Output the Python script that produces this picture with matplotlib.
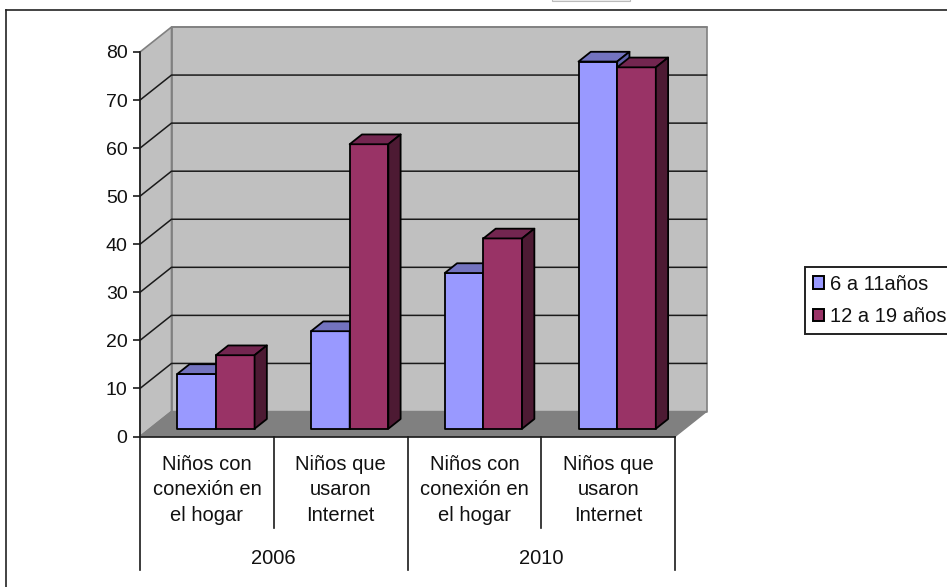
import matplotlib
matplotlib.use("Agg")
import matplotlib.pyplot as plt
from matplotlib.patches import Polygon, Patch, Rectangle
from matplotlib.lines import Line2D

plt.rcParams['font.family'] = ['Liberation Sans', 'DejaVu Sans']

categories = ["Niños con\nconexión en\nel hogar", "Niños que\nusaron\nInternet",
              "Niños con\nconexión en\nel hogar", "Niños que\nusaron\nInternet"]
years = ["2006", "2010"]
series_names = ["6 a 11años", "12 a 19 años"]
values_young = [11.4, 20.3, 32.4, 76.4]
values_teen = [15.3, 59.2, 39.6, 75.2]
y_ticks = [0, 10, 20, 30, 40, 50, 60, 70, 80]

W, H = 947, 587
BLUE = ("#9999FF", "#7373BF", "#5F62AA")
MAROON = ("#993366", "#732650", "#4D1A33")
WALL, FLOOR, EDGE = "#C0C0C0", "#808080", "#808080"
DARK = "#1a1a1a"
TXT = "#111111"
FS = 14.5

fig = plt.figure(figsize=(W / 100, H / 100), dpi=100, facecolor="white")
L, R, T, B = 140, 675, 52, 436.5
ax = fig.add_axes([L / W, 1 - B / H, (R - L) / W, (B - T) / H])
ax.set_xlim(0, 4)
ax.set_ylim(0, 80)
ax.patch.set_visible(False)
for s in ("top", "right"):
    ax.spines[s].set_visible(False)
for s in ("left", "bottom"):
    ax.spines[s].set_color(DARK)
    ax.spines[s].set_linewidth(1.2)
    ax.spines[s].set_zorder(20)

# oblique depth projection, in data units per unit of depth
DX = 31.5 / ((R - L) / 4)
DY = 25 / ((B - T) / 80)


def P(x, y, z):
    return (x + z * DX, y + z * DY)


def poly(pts, fc, ec="none", lw=0.0, z=1):
    ax.add_patch(Polygon(pts, closed=True, facecolor=fc, edgecolor=ec, linewidth=lw,
                         zorder=z, clip_on=False, joinstyle="round"))


# walls and floor
poly([P(0, 0, 1), P(4, 0, 1), P(4, 80, 1), P(0, 80, 1)], WALL, EDGE, 1.2)
poly([P(0, 0, 0), P(0, 0, 1), P(0, 80, 1), P(0, 80, 0)], WALL, EDGE, 1.2)
poly([P(0, 0, 0), P(4, 0, 0), P(4, 0, 1), P(0, 0, 1)], FLOOR, EDGE, 1.0, z=2)

for v in y_ticks[1:-1]:
    a, b, c = P(0, v, 0), P(0, v, 1), P(4, v, 1)
    ax.plot([a[0], b[0], c[0]], [a[1], b[1], c[1]], color=DARK, lw=1.1, zorder=3, clip_on=False)
a, b = P(0, 80, 1), P(4, 80, 1)
ax.plot([a[0], b[0]], [a[1], b[1]], color=EDGE, lw=1.1, zorder=3, clip_on=False)


def bar3d(x0, x1, top, cols, z):
    z0, z1 = 0.31, 0.70
    edge = dict(ec="black", lw=1.3)
    poly([P(x0, 0, z0), P(x1, 0, z0), P(x1, top, z0), P(x0, top, z0)], cols[0], z=z, **edge)
    poly([P(x0, top, z0), P(x1, top, z0), P(x1, top, z1), P(x0, top, z1)], cols[1], z=z, **edge)
    poly([P(x1, 0, z0), P(x1, 0, z1), P(x1, top, z1), P(x1, top, z0)], cols[2], z=z, **edge)


BW = 0.289
LEFT = 0.2056
for i, (a, b) in enumerate(zip(values_young, values_teen)):
    x = i + LEFT
    bar3d(x, x + BW, a, BLUE, 5 + 2 * i)
    bar3d(x + BW, x + 2 * BW, b, MAROON, 6 + 2 * i)

# y axis
ax.set_yticks(y_ticks)
ax.tick_params(axis="y", length=5, width=1.2, color=DARK, pad=4, labelsize=14, labelcolor=TXT)

# x axis: category level
ax.set_xticks([i + 0.5 for i in range(4)], categories)
ax.tick_params(axis="x", length=0, pad=13, labelsize=FS, labelcolor=TXT)
for t in ax.get_xticklabels():
    t.set_linespacing(1.44)

# multi-level separators, lengths expressed in data units under the axis
OUTER, INNER = -27.7, -19.0
for x in (0, 2, 4):
    ax.plot([x, x], [0, OUTER], color=DARK, lw=1.2, clip_on=False, zorder=20)
for x in (1, 3):
    ax.plot([x, x], [0, INNER], color=DARK, lw=1.2, clip_on=False, zorder=20)
for i, yr in enumerate(years):
    ax.text(2 * i + 1, -25.3, yr, ha="center", va="center", fontsize=FS, color=TXT)

# legend
handles = [Patch(facecolor=BLUE[0], edgecolor="black", linewidth=1.4, label=series_names[0]),
           Patch(facecolor=MAROON[0], edgecolor="black", linewidth=1.4, label=series_names[1])]
leg = fig.legend(handles=handles, loc="upper left",
                 bbox_to_anchor=(805 / W, 1 - 267 / H), bbox_transform=fig.transFigure,
                 fontsize=FS, frameon=True, fancybox=False, edgecolor="#222222", framealpha=1,
                 borderaxespad=0, borderpad=0.38, labelspacing=0.66,
                 handlelength=0.55, handleheight=0.55, handletextpad=0.3)
leg.get_frame().set_linewidth(1.4)
for t in leg.get_texts():
    t.set_color(TXT)

# outer chart frame, running off the right and bottom of the picture
fig.add_artist(Line2D([6 / W, 6 / W], [0, 1 - 10 / H], color="#222222", lw=1.2))
fig.add_artist(Line2D([6 / W, 1], [1 - 10 / H, 1 - 10 / H], color="#222222", lw=1.2))
fig.add_artist(Rectangle((552 / W, 1 - 1 / H), 78 / W, 2 / H, facecolor="#F0F0F0", edgecolor="#BBBBBB", lw=0.8))

fig.savefig("out.png", dpi=100)
